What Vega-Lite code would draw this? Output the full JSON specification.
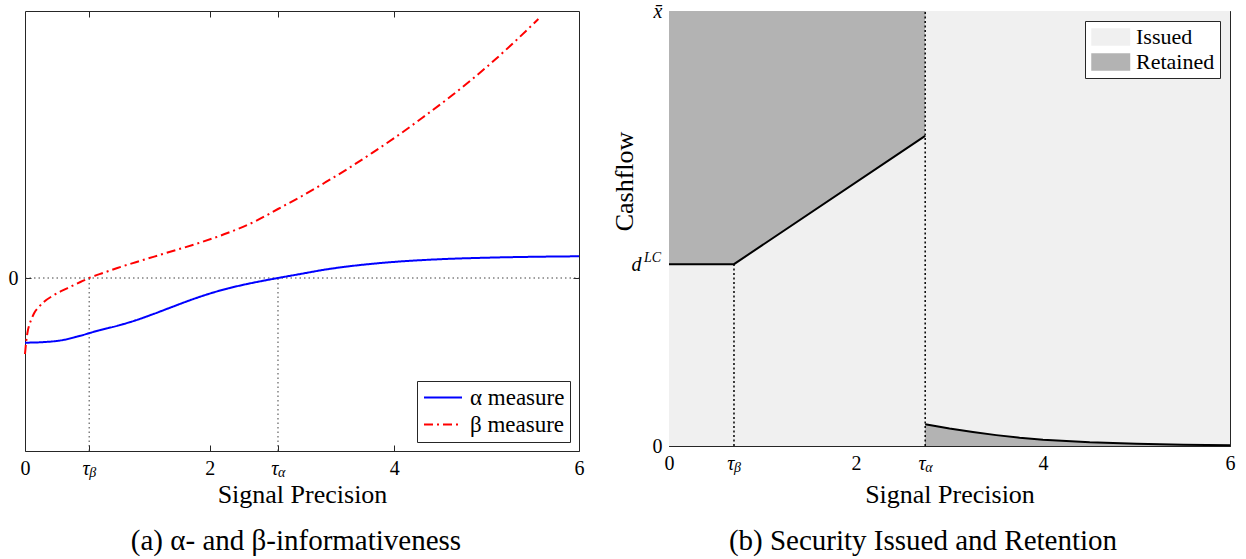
{
  "$schema": "https://vega.github.io/schema/vega-lite/v6.json",
  "padding": {"left": 7, "top": 0, "right": 0, "bottom": 0},
  "background": "#ffffff",
  "spacing": 25,
  "resolve": {
    "scale": {"x": "independent", "y": "independent", "color": "independent", "strokeDash": "independent"},
    "legend": {"color": "independent", "strokeDash": "independent"}
  },
  "config": {
    "font": "Liberation Serif",
    "view": {"stroke": "#262626", "strokeWidth": 1},
    "axis": {
      "domain": false, "grid": false, "tickColor": "#262626", "tickWidth": 1, "tickSize": -6,
      "labelFont": "Liberation Serif", "labelFontSize": 20, "labelColor": "#000000", "labelPadding": 13,
      "labelFlush": false, "labelOverlap": false, "labelBound": false,
      "titleFont": "Liberation Serif", "titleFontSize": 26, "titleFontWeight": "normal", "titleColor": "#000000"
    },
    "legend": {"labelFont": "Liberation Serif", "labelColor": "#000000"},
    "title": {"font": "Liberation Serif", "fontSize": 29, "fontWeight": "normal", "color": "#000000"}
  },
  "datasets": {
    "curves": [
      {"x": 0, "v": -0.647, "s": "α measure"},
      {"x": 0.2, "v": -0.641, "s": "α measure"},
      {"x": 0.4, "v": -0.622, "s": "α measure"},
      {"x": 0.6, "v": -0.577, "s": "α measure"},
      {"x": 0.8, "v": -0.524, "s": "α measure"},
      {"x": 1.0, "v": -0.478, "s": "α measure"},
      {"x": 1.2, "v": -0.423, "s": "α measure"},
      {"x": 1.4, "v": -0.357, "s": "α measure"},
      {"x": 1.6, "v": -0.287, "s": "α measure"},
      {"x": 1.8, "v": -0.218, "s": "α measure"},
      {"x": 2.0, "v": -0.156, "s": "α measure"},
      {"x": 2.2, "v": -0.104, "s": "α measure"},
      {"x": 2.4, "v": -0.061, "s": "α measure"},
      {"x": 2.6, "v": -0.024, "s": "α measure"},
      {"x": 2.74, "v": 0.0, "s": "α measure"},
      {"x": 3.0, "v": 0.043, "s": "α measure"},
      {"x": 3.25, "v": 0.084, "s": "α measure"},
      {"x": 3.5, "v": 0.116, "s": "α measure"},
      {"x": 3.75, "v": 0.141, "s": "α measure"},
      {"x": 4.0, "v": 0.161, "s": "α measure"},
      {"x": 4.5, "v": 0.188, "s": "α measure"},
      {"x": 5.0, "v": 0.203, "s": "α measure"},
      {"x": 5.5, "v": 0.212, "s": "α measure"},
      {"x": 6.0, "v": 0.217, "s": "α measure"},
      {"x": 0, "v": -0.76, "s": "β measure"},
      {"x": 0.015, "v": -0.62, "s": "β measure"},
      {"x": 0.03, "v": -0.53, "s": "β measure"},
      {"x": 0.05, "v": -0.46, "s": "β measure"},
      {"x": 0.075, "v": -0.4, "s": "β measure"},
      {"x": 0.1, "v": -0.35, "s": "β measure"},
      {"x": 0.15, "v": -0.29, "s": "β measure"},
      {"x": 0.21, "v": -0.235, "s": "β measure"},
      {"x": 0.3, "v": -0.178, "s": "β measure"},
      {"x": 0.39, "v": -0.132, "s": "β measure"},
      {"x": 0.5, "v": -0.084, "s": "β measure"},
      {"x": 0.6, "v": -0.04, "s": "β measure"},
      {"x": 0.695, "v": 0.0, "s": "β measure"},
      {"x": 0.85, "v": 0.052, "s": "β measure"},
      {"x": 1.0, "v": 0.1, "s": "β measure"},
      {"x": 1.2, "v": 0.158, "s": "β measure"},
      {"x": 1.4, "v": 0.214, "s": "β measure"},
      {"x": 1.6, "v": 0.27, "s": "β measure"},
      {"x": 1.9, "v": 0.355, "s": "β measure"},
      {"x": 2.2, "v": 0.452, "s": "β measure"},
      {"x": 2.5, "v": 0.57, "s": "β measure"},
      {"x": 2.74, "v": 0.69, "s": "β measure"},
      {"x": 3.0, "v": 0.82, "s": "β measure"},
      {"x": 3.25, "v": 0.955, "s": "β measure"},
      {"x": 3.5, "v": 1.095, "s": "β measure"},
      {"x": 3.75, "v": 1.245, "s": "β measure"},
      {"x": 4.0, "v": 1.4, "s": "β measure"},
      {"x": 4.3, "v": 1.6, "s": "β measure"},
      {"x": 4.63, "v": 1.83, "s": "β measure"},
      {"x": 5.0, "v": 2.11, "s": "β measure"},
      {"x": 5.3, "v": 2.36, "s": "β measure"},
      {"x": 5.56, "v": 2.59, "s": "β measure"}
    ],
    "leftV": [
      {"x": 0.695, "y": -1.73, "y2": 0},
      {"x": 2.74, "y": -1.73, "y2": 0}
    ],
    "subs": [
      {"x": 0.695, "t": "β"},
      {"x": 2.74, "t": "α"}
    ],
    "regions": [
      {"x": 0, "lo": 0, "hi": 0.418, "type": "Issued", "piece": "i1"},
      {"x": 0.695, "lo": 0, "hi": 0.418, "type": "Issued", "piece": "i1"},
      {"x": 2.74, "lo": 0, "hi": 0.713, "type": "Issued", "piece": "i1"},
      {"x": 0, "lo": 0.418, "hi": 1, "type": "Retained", "piece": "r1"},
      {"x": 0.695, "lo": 0.418, "hi": 1, "type": "Retained", "piece": "r1"},
      {"x": 2.74, "lo": 0.713, "hi": 1, "type": "Retained", "piece": "r1"},
      {"x": 2.74, "lo": 0.05, "hi": 1, "type": "Issued", "piece": "i2"},
      {"x": 3.0, "lo": 0.04, "hi": 1, "type": "Issued", "piece": "i2"},
      {"x": 3.25, "lo": 0.032, "hi": 1, "type": "Issued", "piece": "i2"},
      {"x": 3.5, "lo": 0.025, "hi": 1, "type": "Issued", "piece": "i2"},
      {"x": 3.75, "lo": 0.019, "hi": 1, "type": "Issued", "piece": "i2"},
      {"x": 4.0, "lo": 0.0145, "hi": 1, "type": "Issued", "piece": "i2"},
      {"x": 4.5, "lo": 0.0085, "hi": 1, "type": "Issued", "piece": "i2"},
      {"x": 5.0, "lo": 0.005, "hi": 1, "type": "Issued", "piece": "i2"},
      {"x": 5.5, "lo": 0.0028, "hi": 1, "type": "Issued", "piece": "i2"},
      {"x": 6.0, "lo": 0.0015, "hi": 1, "type": "Issued", "piece": "i2"},
      {"x": 2.74, "lo": 0, "hi": 0.05, "type": "Retained", "piece": "r2"},
      {"x": 3.0, "lo": 0, "hi": 0.04, "type": "Retained", "piece": "r2"},
      {"x": 3.25, "lo": 0, "hi": 0.032, "type": "Retained", "piece": "r2"},
      {"x": 3.5, "lo": 0, "hi": 0.025, "type": "Retained", "piece": "r2"},
      {"x": 3.75, "lo": 0, "hi": 0.019, "type": "Retained", "piece": "r2"},
      {"x": 4.0, "lo": 0, "hi": 0.0145, "type": "Retained", "piece": "r2"},
      {"x": 4.5, "lo": 0, "hi": 0.0085, "type": "Retained", "piece": "r2"},
      {"x": 5.0, "lo": 0, "hi": 0.005, "type": "Retained", "piece": "r2"},
      {"x": 5.5, "lo": 0, "hi": 0.0028, "type": "Retained", "piece": "r2"},
      {"x": 6.0, "lo": 0, "hi": 0.0015, "type": "Retained", "piece": "r2"}
    ],
    "edges": [
      {"x": 0, "y": 0.418, "piece": "e1"},
      {"x": 0.695, "y": 0.418, "piece": "e1"},
      {"x": 2.74, "y": 0.713, "piece": "e1"},
      {"x": 2.74, "y": 0.05, "piece": "e2"},
      {"x": 3.0, "y": 0.04, "piece": "e2"},
      {"x": 3.25, "y": 0.032, "piece": "e2"},
      {"x": 3.5, "y": 0.025, "piece": "e2"},
      {"x": 3.75, "y": 0.019, "piece": "e2"},
      {"x": 4.0, "y": 0.0145, "piece": "e2"},
      {"x": 4.5, "y": 0.0085, "piece": "e2"},
      {"x": 5.0, "y": 0.005, "piece": "e2"},
      {"x": 5.5, "y": 0.0028, "piece": "e2"},
      {"x": 6.0, "y": 0.0015, "piece": "e2"}
    ],
    "rightV": [
      {"x": 0.695, "y": 0, "y2": 0.418},
      {"x": 2.74, "y": 0, "y2": 1}
    ]
  },
  "hconcat": [
    {
      "width": 554,
      "height": 440,
      "title": {"text": "(a) α- and β-informativeness", "orient": "bottom", "anchor": "middle", "frame": "bounds", "offset": 20},
      "layer": [
        {
          "data": {"values": [{"x": 0, "x2": 6, "y": 0}]},
          "mark": {"type": "rule", "color": "#404040", "strokeDash": [1.5, 3], "strokeWidth": 1},
          "encoding": {
            "x": {"field": "x", "type": "quantitative", "scale": {"domain": [0, 6], "nice": false},
                  "axis": {"orient": "top", "values": [0.695, 2, 2.74, 4], "labels": false, "title": null}},
            "x2": {"field": "x2"},
            "y": {"field": "y", "type": "quantitative", "scale": {"domain": [-1.73, 2.67], "nice": false},
                  "axis": {"orient": "right", "values": [0], "labels": false, "title": null}}
          }
        },
        {
          "data": {"name": "leftV"},
          "mark": {"type": "rule", "color": "#404040", "strokeDash": [1.5, 3], "strokeWidth": 1},
          "encoding": {
            "x": {"field": "x", "type": "quantitative", "axis": null},
            "y": {"field": "y", "type": "quantitative", "axis": null},
            "y2": {"field": "y2"}
          }
        },
        {
          "data": {"name": "curves"},
          "mark": {"type": "line", "strokeWidth": 2, "interpolate": "monotone"},
          "encoding": {
            "x": {"field": "x", "type": "quantitative",
                  "axis": {"orient": "bottom", "values": [0, 0.695, 2, 2.74, 4, 6], "title": "Signal Precision", "titlePadding": 3,
                           "labelExpr": "datum.value == 0.695 || datum.value == 2.74 ? 'τ' : datum.label",
                           "labelAlign": {"condition": {"test": "datum.value == 0.695 || datum.value == 2.74", "value": "right"}, "value": "center"},
                           "labelFontStyle": {"condition": {"test": "datum.value == 0.695 || datum.value == 2.74", "value": "italic"}, "value": "normal"}}},
            "y": {"field": "v", "type": "quantitative",
                  "axis": {"orient": "left", "values": [0], "title": null}},
            "color": {"field": "s", "type": "nominal", "scale": {"domain": ["α measure", "β measure"], "range": ["#0000ff", "#ff0000"]},
                      "legend": {"orient": "bottom-right", "offset": 9, "title": null, "strokeColor": "#262626", "fillColor": "#ffffff",
                                 "padding": 5, "labelFontSize": 23, "symbolType": "M-1,0L3,0", "symbolSize": 361, "symbolStrokeWidth": 2,
                                 "labelOffset": 25, "rowPadding": 3}},
            "strokeDash": {"field": "s", "type": "nominal", "scale": {"domain": ["α measure", "β measure"], "range": [[1, 0], [9, 4, 2, 4]]},
                           "legend": {"orient": "bottom-right", "offset": 9, "title": null, "strokeColor": "#262626", "fillColor": "#ffffff",
                                 "padding": 5, "labelFontSize": 23, "symbolType": "M-1,0L3,0", "symbolSize": 361, "symbolStrokeWidth": 2,
                                 "labelOffset": 25, "rowPadding": 3}}
          }
        },
        {
          "data": {"name": "subs"},
          "mark": {"type": "text", "font": "Liberation Serif", "fontSize": 14, "fontStyle": "italic", "align": "left", "baseline": "alphabetic", "dy": 26, "dx": 0},
          "encoding": {
            "x": {"field": "x", "type": "quantitative", "axis": null},
            "y": {"datum": -1.73, "type": "quantitative", "axis": null},
            "text": {"field": "t"}
          }
        }
      ],
      "resolve": {"axis": {"x": "independent", "y": "independent"}}
    },
    {
      "width": 561,
      "height": 435,
      "title": {"text": "(b) Security Issued and Retention", "orient": "bottom", "anchor": "middle", "frame": "bounds", "offset": 20},
      "layer": [
        {
          "data": {"name": "regions"},
          "mark": {"type": "area", "orient": "vertical", "opacity": 1},
          "encoding": {
            "x": {"field": "x", "type": "quantitative", "scale": {"domain": [0, 6], "nice": false},
                  "axis": {"orient": "bottom", "values": [0, 0.695, 2, 2.74, 4, 6], "title": "Signal Precision", "titlePadding": 8,
                           "labelExpr": "datum.value == 0.695 || datum.value == 2.74 ? 'τ' : datum.label",
                           "labelAlign": {"condition": {"test": "datum.value == 0.695 || datum.value == 2.74", "value": "right"}, "value": "center"},
                           "labelFontStyle": {"condition": {"test": "datum.value == 0.695 || datum.value == 2.74", "value": "italic"}, "value": "normal"}}},
            "y": {"field": "lo", "type": "quantitative", "stack": null, "scale": {"domain": [0, 1], "nice": false},
                  "axis": {"orient": "left", "values": [0, 0.418, 1], "title": "Cashflow", "titlePadding": -6, "titleY": 170,
                           "labelExpr": "datum.value == 0 ? '0' : datum.value == 1 ? 'x\u0304' : 'd'",
                           "labelPadding": {"condition": {"test": "datum.value == 0.418", "value": 34}, "value": 13},
                           "labelFontStyle": {"condition": {"test": "datum.value > 0", "value": "italic"}, "value": "normal"}}},
            "y2": {"field": "hi"},
            "color": {"field": "type", "type": "nominal", "scale": {"domain": ["Issued", "Retained"], "range": ["#f0f0f0", "#b3b3b3"]},
                      "legend": {"orient": "top-right", "offset": 10, "title": null, "strokeColor": "#262626", "fillColor": "#ffffff",
                                 "padding": 5, "labelFontSize": 22, "symbolType": "M-1,-0.9L3,-0.9L3,0.9L-1,0.9Z", "symbolSize": 380,
                                 "symbolStrokeWidth": 0, "symbolOpacity": 1, "labelOffset": 24, "rowPadding": 3}},
            "detail": {"field": "piece"}
          }
        },
        {
          "data": {"name": "rightV"},
          "mark": {"type": "rule", "color": "#000000", "strokeDash": [2, 2.5], "strokeWidth": 1.5},
          "encoding": {
            "x": {"field": "x", "type": "quantitative",
                  "axis": {"orient": "top", "values": [0.695, 2, 2.74, 4], "labels": false, "title": null}},
            "y": {"field": "y", "type": "quantitative",
                  "axis": {"orient": "right", "values": [0, 0.418, 1], "labels": false, "title": null}},
            "y2": {"field": "y2"}
          }
        },
        {
          "data": {"name": "edges"},
          "mark": {"type": "line", "color": "#000000", "strokeWidth": 2},
          "encoding": {
            "x": {"field": "x", "type": "quantitative", "axis": null},
            "y": {"field": "y", "type": "quantitative", "axis": null},
            "detail": {"field": "piece"}
          }
        },
        {
          "data": {"name": "subs"},
          "mark": {"type": "text", "font": "Liberation Serif", "fontSize": 14, "fontStyle": "italic", "align": "left", "baseline": "alphabetic", "dy": 26, "dx": 0},
          "encoding": {
            "x": {"field": "x", "type": "quantitative", "axis": null},
            "y": {"datum": 0, "type": "quantitative", "axis": null},
            "text": {"field": "t"}
          }
        },
        {
          "data": {"values": [{"x": 0, "y": 0.418, "t": "LC"}]},
          "mark": {"type": "text", "font": "Liberation Serif", "fontSize": 14, "fontStyle": "italic", "align": "right", "baseline": "alphabetic", "dx": -8, "dy": -2},
          "encoding": {
            "x": {"field": "x", "type": "quantitative", "axis": null},
            "y": {"field": "y", "type": "quantitative", "axis": null},
            "text": {"field": "t"}
          }
        }
      ],
      "resolve": {"axis": {"x": "independent", "y": "independent"}}
    }
  ]
}
